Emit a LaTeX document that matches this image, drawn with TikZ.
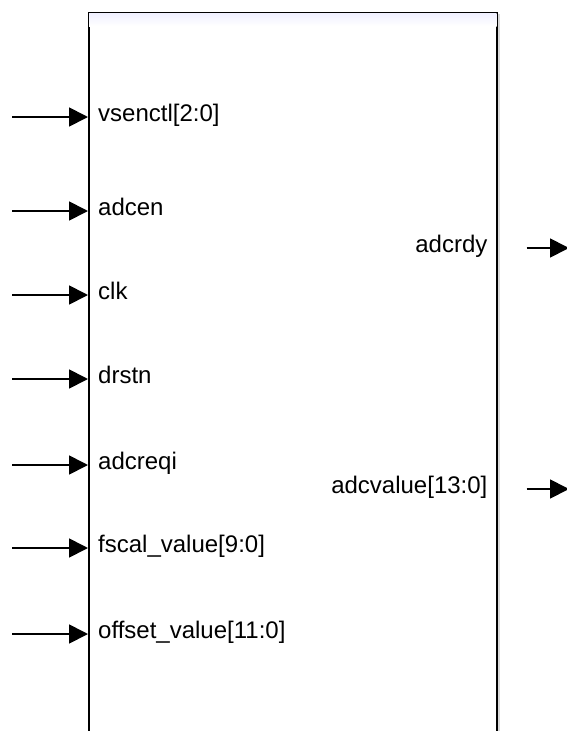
\documentclass[tikz,border=0pt]{standalone}
\usepackage{fontspec}
\setmainfont{Liberation Sans}
\usetikzlibrary{arrows.meta,positioning}
\tikzstyle{every picture}+=[x=1pt,y=-1pt]
\tikzstyle{block}=[draw, line width=1.6pt, fill=white, inner sep=0pt]
\tikzstyle{block}+=[minimum width=408pt, minimum height=760pt, anchor=north west]
\tikzstyle{wire}=[-{Triangle[length=19pt 0,width=19pt 0]}, line width=1.8pt]
\tikzstyle{pinname}=[font=\fontsize{24}{24}\selectfont, inner sep=0pt]
\tikzstyle{inpin}=[pinname, anchor=mid west]
\tikzstyle{outpin}=[pinname, anchor=mid east]
\begin{document}
\begin{tikzpicture}
\useasboundingbox (0,0) rectangle (567,731);
% shadow and block
\fill[black!15] (90,14) rectangle (499.5,760);
\node[block] (core) at (88,12) {};
\shade[top color=blue!6, bottom color=white] ([xshift=1pt,yshift=-1pt]core.north west) rectangle ([xshift=-1pt,yshift=-14pt]core.north east);

% inputs
\foreach \name/\lbl/\y in {vs/vsenctl[2:0]/117, en/adcen/211, ck/clk/295, rs/drstn/379,
    rq/adcreqi/465, fs/fscal\_value[9:0]/548, os/offset\_value[11:0]/634}{
  \coordinate (src-\name) at (12,\y);
  \draw[wire] (src-\name) -- (src-\name -| core.west);
  \node[inpin] (lbl-\name) at ([xshift=10pt,yshift=-2pt]src-\name -| core.west) {\lbl};
}

% outputs
\foreach \name/\lbl/\y in {rd/adcrdy/248, vl/adcvalue[13:0]/489}{
  \coordinate (dst-\name) at (569,\y);
  \coordinate (out-\name) at ([xshift=29pt]dst-\name -| core.east);
  \draw[wire] (out-\name) -- (dst-\name);
  \node[outpin] (lbl-\name) at ([xshift=-10pt,yshift=-2pt]dst-\name -| core.east) {\lbl};
}
\end{tikzpicture}
\end{document}
